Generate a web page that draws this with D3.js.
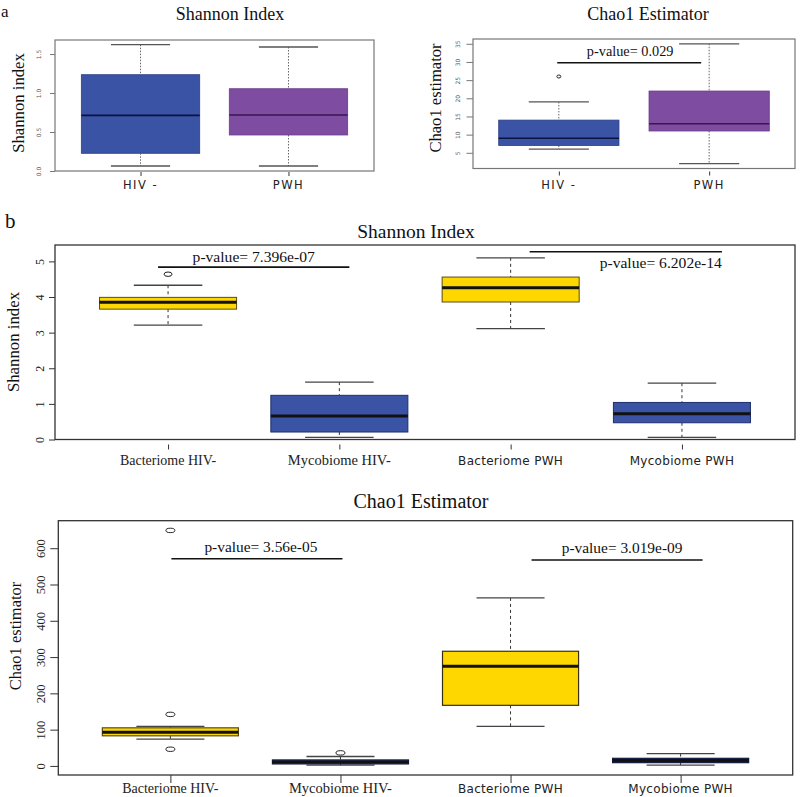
<!DOCTYPE html>
<html><head><meta charset="utf-8">
<script src="https://cdn.jsdelivr.net/npm/d3@7"></script>
<style>body{margin:0;background:#fff}</style>
</head><body>
<svg id="chart" width="800" height="797"></svg>
<script>
// ---------- DATA ----------
// Panel a (left): Shannon index
const catsA = ["HIV -", "PWH"];
const shannonAStats = [ // [whiskerLow, Q1, median, Q3, whiskerHigh]
  [0.064, 0.227, 0.714, 1.235, 1.62],
  [0.064, 0.462, 0.718, 1.055, 1.59]
];
const shannonAOutliers = [[], []];
const shannonATicks = [0, 0.5, 1.0, 1.5];
const shannonATickLabels = ["0.0", "0.5", "1.0", "1.5"];

// Panel a (right): Chao1 estimator
const chaoAStats = [
  [6, 7, 9, 14, 19],
  [2, 11, 13, 22, 35]
];
const chaoAOutliers = [[26], []];
const chaoATicks = [5, 10, 15, 20, 25, 30, 35];
const chaoATickLabels = ["5", "10", "15", "20", "25", "30", "35"];
const chaoAPvalue = [{from: 0, to: 1, y: 29.8, label: "p-value= 0.029", above: true}];

// Panel b: Shannon index
const catsB = ["Bacteriome HIV-", "Mycobiome HIV-", "Bacteriome PWH", "Mycobiome PWH"];
const shannonBStats = [
  [3.21, 3.66, 3.85, 3.99, 4.33],
  [0.06, 0.21, 0.66, 1.24, 1.61],
  [3.11, 3.86, 4.26, 4.56, 5.10],
  [0.06, 0.47, 0.72, 1.04, 1.58]
];
const shannonBOutliers = [[4.64], [], [], []];
const shannonBTicks = [0, 1, 2, 3, 4, 5];
const shannonBTickLabels = ["0", "1", "2", "3", "4", "5"];
const shannonBPvalues = [
  {from: 0, to: 1, y: 4.84, label: "p-value= 7.396e-07", above: true},
  {from: 2, to: 3, y: 5.27, label: "p-value= 6.202e-14", above: false}
];

// Panel b: Chao1 estimator
const chaoBStats = [
  [74, 83, 93, 105, 109],
  [2, 5.5, 11, 16.5, 26],
  [109, 167, 275, 316, 463],
  [2, 9, 15, 21, 34]
];
const chaoBOutliers = [[649, 142, 46], [36], [], []];
const chaoBTicks = [0, 100, 200, 300, 400, 500, 600];
const chaoBTickLabels = ["0", "100", "200", "300", "400", "500", "600"];
const chaoBPvalues = [
  {from: 0, to: 1, y: 571, label: "p-value= 3.56e-05", above: true},
  {from: 2, to: 3, y: 567.5, label: "p-value= 3.019e-09", above: true}
];

// ---------- DRAWING ----------
const BLUE = "#3a53a4", PURPLE = "#7e4ca0", GOLD = "#ffd700";
const svg = d3.select("#chart");
const SERIF = "'Liberation Serif', 'Times New Roman', serif";
const SANS = "'DejaVu Sans', Verdana, sans-serif";

function panel(cfg) {
  const g = svg.append("g");
  const x = d3.scalePoint().domain(cfg.cats).range([cfg.left, cfg.right]).padding(cfg.pad);
  const y = d3.scaleLinear().domain(cfg.ydom).range([cfg.bottom, cfg.top]);
  const bw = x.step() * 0.8, cw = bw / 2;

  cfg.cats.forEach((c, i) => {
    const [lo, q1, med, q3, hi] = cfg.stats[i];
    const cx = x(c);
    const bg = g.append("g");
    bg.append("line").attr("x1", cx).attr("x2", cx).attr("y1", y(hi)).attr("y2", y(q3))
      .attr("stroke", cfg.whiskerColor).attr("stroke-width", 1).attr("stroke-dasharray", cfg.dash);
    bg.append("line").attr("x1", cx).attr("x2", cx).attr("y1", y(q1)).attr("y2", y(lo))
      .attr("stroke", cfg.whiskerColor).attr("stroke-width", 1).attr("stroke-dasharray", cfg.dash);
    [lo, hi].forEach(v => bg.append("line").attr("x1", cx - cw / 2).attr("x2", cx + cw / 2)
      .attr("y1", y(v)).attr("y2", y(v)).attr("stroke", cfg.capColor).attr("stroke-width", 1.3));
    bg.append("rect").attr("x", cx - bw / 2).attr("y", y(q3)).attr("width", bw)
      .attr("height", Math.max(y(q1) - y(q3), 1)).attr("fill", cfg.colors[i])
      .attr("stroke", cfg.boxStroke[i]).attr("stroke-width", cfg.boxStrokeW);
    bg.append("line").attr("x1", cx - bw / 2).attr("x2", cx + bw / 2).attr("y1", y(med)).attr("y2", y(med))
      .attr("stroke", cfg.medColor[i]).attr("stroke-width", cfg.medW);
    (cfg.outliers[i] || []).forEach(v => bg.append("ellipse").attr("cx", cx).attr("cy", y(v))
      .attr("rx", cfg.outRx).attr("ry", cfg.outRy).attr("fill", "none").attr("stroke", "#222").attr("stroke-width", 1));
  });

  // frame
  g.append("rect").attr("x", cfg.left).attr("y", cfg.top).attr("width", cfg.right - cfg.left)
    .attr("height", cfg.bottom - cfg.top).attr("fill", "none").attr("stroke", cfg.frameColor).attr("stroke-width", cfg.frameW);

  // y axis
  const ya = g.append("g").attr("transform", `translate(${cfg.left},0)`)
    .call(d3.axisLeft(y).tickValues(cfg.ticks).tickFormat((d, i) => cfg.tickLabels[i]).tickSize(cfg.tickLen).tickSizeOuter(0));
  ya.select(".domain").remove();
  ya.selectAll(".tick line").attr("stroke", cfg.frameColor);
  ya.selectAll(".tick text").attr("transform", `translate(${-cfg.labOff},0) rotate(-90)`)
    .attr("x", 0).attr("dy", 0).attr("text-anchor", "middle")
    .style("font-family", cfg.tickFont).style("font-size", cfg.tickSize + "px").attr("fill", cfg.tickColor);

  // x axis ticks
  const xa = g.append("g").attr("transform", `translate(0,${cfg.bottom + cfg.xGap})`)
    .call(d3.axisBottom(x).tickSize(cfg.xTickLen).tickFormat(""));
  xa.select(".domain").remove();
  xa.selectAll(".tick line").attr("stroke", "#333");
  cfg.cats.forEach((c, i) => {
    g.append("text").attr("x", x(c)).attr("y", cfg.xLabY).attr("text-anchor", "middle")
      .style("font-family", cfg.xFonts[i]).style("font-size", cfg.xSizes[i] + "px")
      .style("letter-spacing", cfg.xSpacing[i] + "px").attr("fill", "#222").text(c);
  });

  // p-value annotations
  (cfg.pvals || []).forEach((p, k) => {
    const [lx1, lx2, tdx] = cfg.pLayout[k];
    const x1 = x(cfg.cats[p.from]) + lx1, x2 = x(cfg.cats[p.to]) + lx2;
    g.append("line").attr("x1", x1).attr("x2", x2).attr("y1", y(p.y)).attr("y2", y(p.y))
      .attr("stroke", "#111").attr("stroke-width", 1.6);
    g.append("text").attr("x", (x1 + x2) / 2 + tdx).attr("y", p.above ? y(p.y) - cfg.pAbove : y(p.y) + cfg.pBelow)
      .attr("text-anchor", "middle").style("font-family", SERIF).style("font-size", cfg.pSize + "px")
      .attr("fill", "#111").text(p.label);
  });

  // titles
  svg.append("text").attr("x", cfg.titleX).attr("y", cfg.titleY).attr("text-anchor", "middle")
    .style("font-family", SERIF).style("font-size", cfg.titleSize + "px").attr("fill", "#111").text(cfg.title);
  svg.append("text").attr("transform", `translate(${cfg.yLabX},${cfg.yLabY}) rotate(-90)`).attr("text-anchor", "middle")
    .style("font-family", SERIF).style("font-size", cfg.yLabSize + "px").attr("fill", "#111").text(cfg.yLab);
}

// Panel a-left
panel({
  cats: catsA, stats: shannonAStats, outliers: shannonAOutliers, ticks: shannonATicks, tickLabels: shannonATickLabels,
  left: 55, right: 374, top: 40, bottom: 171, pad: 0.578, ydom: [0, 1.68],
  colors: [BLUE, PURPLE], boxStroke: ["#2a3f8a", "#6a3a8a"], boxStrokeW: 0.8,
  medColor: ["#0b1240", "#3a1650"], medW: 1.6, whiskerColor: "#666", capColor: "#555", dash: "1.5,1.5",
  outRx: 2, outRy: 1.5, frameColor: "#777", frameW: 1.2,
  tickLen: 5, labOff: 14, tickFont: SANS, tickSize: 6, tickColor: "#555",
  xGap: 1, xTickLen: 4, xLabY: 189, xFonts: [SANS, SANS], xSizes: [11.5, 11.5], xSpacing: [1.5, 1.5],
  title: "Shannon Index", titleX: 230, titleY: 20, titleSize: 18,
  yLab: "Shannon index", yLabX: 24, yLabY: 103, yLabSize: 16.7
});

// Panel a-right
panel({
  cats: catsA, stats: chaoAStats, outliers: chaoAOutliers, ticks: chaoATicks, tickLabels: chaoATickLabels,
  left: 473, right: 795, top: 39, bottom: 168.5, pad: 0.571, ydom: [0.68, 36.32],
  colors: [BLUE, PURPLE], boxStroke: ["#2a3f8a", "#6a3a8a"], boxStrokeW: 0.8,
  medColor: ["#0b1240", "#3a1650"], medW: 1.4, whiskerColor: "#666", capColor: "#555", dash: "1.5,1.5",
  outRx: 2, outRy: 1.5, frameColor: "#777", frameW: 1.2,
  tickLen: 6.5, labOff: 13, tickFont: SANS, tickSize: 6, tickColor: "#555",
  xGap: 3, xTickLen: 4, xLabY: 189, xFonts: [SANS, SANS], xSizes: [11.5, 11.5], xSpacing: [1.5, 1.5],
  pvals: chaoAPvalue, pLayout: [[-1.6, -8, 1]], pAbove: 6.5, pBelow: 0, pSize: 14.3,
  title: "Chao1 Estimator", titleX: 648, titleY: 20, titleSize: 18,
  yLab: "Chao1 estimator", yLabX: 441, yLabY: 98, yLabSize: 16.6
});

// Panel b Shannon
panel({
  cats: catsB, stats: shannonBStats, outliers: shannonBOutliers, ticks: shannonBTicks, tickLabels: shannonBTickLabels,
  left: 55, right: 795, top: 245, bottom: 439.5, pad: 0.66, ydom: [0, 5.46],
  colors: [GOLD, BLUE, GOLD, BLUE], boxStroke: ["#5a4a10", "#1f2f6a", "#5a4a10", "#1f2f6a"], boxStrokeW: 1,
  medColor: ["#111", "#111", "#111", "#111"], medW: 3, whiskerColor: "#333", capColor: "#444", dash: "3,3",
  outRx: 4, outRy: 2.2, frameColor: "#333", frameW: 1.3,
  tickLen: 6, labOff: 11, tickFont: SERIF, tickSize: 12, tickColor: "#222",
  xGap: 5, xTickLen: 5, xLabY: 465, xFonts: [SERIF, SERIF, SANS, SANS], xSizes: [14, 14.5, 12, 12], xSpacing: [0, 0, 0.3, 0.3],
  pvals: shannonBPvalues, pLayout: [[-10, 10, 0], [19, 40, 35]], pAbove: 5, pBelow: 16, pSize: 15.6,
  title: "Shannon Index", titleX: 416, titleY: 238, titleSize: 19.5,
  yLab: "Shannon index", yLabX: 19, yLabY: 342, yLabSize: 16.8
});

// Panel b Chao1
panel({
  cats: catsB, stats: chaoBStats, outliers: chaoBOutliers, ticks: chaoBTicks, tickLabels: chaoBTickLabels,
  left: 58.3, right: 792.7, top: 520.7, bottom: 775, pad: 0.659, ydom: [-25, 675.8],
  colors: [GOLD, BLUE, GOLD, BLUE], boxStroke: ["#5a4a10", "#111a3a", "#3a3010", "#111a3a"], boxStrokeW: 1.2,
  medColor: ["#111", "#111", "#111", "#111"], medW: 3, whiskerColor: "#333", capColor: "#444", dash: "3,3",
  outRx: 4.5, outRy: 2.2, frameColor: "#333", frameW: 1.3,
  tickLen: 8, labOff: 13, tickFont: SERIF, tickSize: 12.5, tickColor: "#222",
  xGap: 0, xTickLen: 8, xLabY: 793, xFonts: [SERIF, SERIF, SANS, SANS], xSizes: [14, 14.5, 12, 12], xSpacing: [0, 0, 0.3, 0.3],
  pvals: chaoBPvalues, pLayout: [[1, 2, 4], [21, 22, 5]], pAbove: 7, pBelow: 0, pSize: 15.4,
  title: "Chao1 Estimator", titleX: 421, titleY: 508, titleSize: 20,
  yLab: "Chao1 estimator", yLabX: 21, yLabY: 636, yLabSize: 16.5
});

// panel letters
svg.append("text").attr("x", 1).attr("y", 17).style("font-family", SERIF).style("font-size", "17px").attr("fill", "#111").text("a");
svg.append("text").attr("x", 5).attr("y", 228).style("font-family", SERIF).style("font-size", "21px").attr("fill", "#111").text("b");
</script>
</body></html>
